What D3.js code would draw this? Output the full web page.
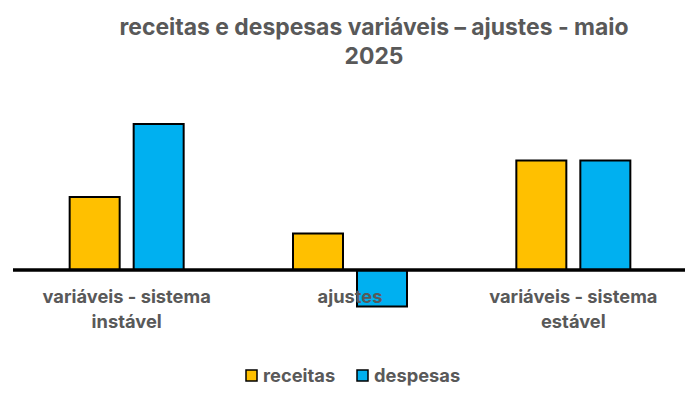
<!DOCTYPE html>
<html>
<head>
<meta charset="utf-8">
<script src="https://cdn.jsdelivr.net/npm/d3@7"></script>
<style>
  body { margin: 0; background: #fff; }
  svg text { font-family: Inter, "Open Sans", sans-serif; fill: #595959; font-weight: 700; }
</style>
</head>
<body>
<svg id="chart"></svg>
<script>
// chart data
const categories = [['variáveis - sistema', 'instável'], ['ajustes'], ['variáveis - sistema', 'estável']]
const seriesNames = ['receitas', 'despesas']
const receitas = [2, 1, 3]
const despesas = [4, -1, 3]
const colors = ['#FFC000', '#00B0F0']
const titleLines = ['receitas e despesas variáveis – ajustes - maio', '2025']

const width = 700
const height = 400

const svg = d3.select('#chart')
    .attr('width', width)
    .attr('height', height)

// category band across the plot area
const x = d3.scaleBand()
    .domain(d3.range(categories.length))
    .range([15, 685])

// position of the two bars inside each category
const xSub = d3.scalePoint()
    .domain(seriesNames)
    .range([-57, 7])

const barW = 50

const y = d3.scaleLinear()
    .domain([0, 4])
    .range([270, 124])

// title
svg.append('g')
    .selectAll('text')
    .data(titleLines)
    .join('text')
    .attr('x', 374)
    .attr('y', (d, i) => 35 + i * 29)
    .attr('text-anchor', 'middle')
    .style('font-size', '22.9px')
    .text(d => d)

// bars
const rows = []
categories.forEach((c, i) => {
    rows.push({ cat: i, s: 'receitas', v: receitas[i], c: colors[0] })
    rows.push({ cat: i, s: 'despesas', v: despesas[i], c: colors[1] })
})

svg.append('g')
    .selectAll('rect')
    .data(rows)
    .join('rect')
    .attr('x', d => x(d.cat) + x.bandwidth() / 2 + xSub(d.s))
    .attr('y', d => Math.min(y(d.v), y(0)))
    .attr('width', barW)
    .attr('height', d => Math.abs(y(d.v) - y(0)))
    .attr('fill', d => d.c)
    .attr('stroke', '#000')
    .attr('stroke-width', 2)

// zero line
svg.append('line')
    .attr('x1', 13)
    .attr('x2', 685)
    .attr('y1', y(0))
    .attr('y2', y(0))
    .attr('stroke', '#000')
    .attr('stroke-width', 3.5)

// category labels (drawn after so "ajustes" sits on top of the bar)
const labels = svg.append('g')
    .selectAll('text')
    .data(categories)
    .join('text')
    .attr('text-anchor', 'middle')
    .style('font-size', '18.3px')

labels.selectAll('tspan')
    .data((d, i) => d.map(t => ({ t, i })))
    .join('tspan')
    .attr('x', d => x(d.i) + x.bandwidth() / 2)
    .attr('y', (d, j) => 303 + j * 25)
    .text(d => d.t)

// legend
const legend = svg.append('g')
    .selectAll('g')
    .data(seriesNames)
    .join('g')
    .attr('transform', (d, i) => `translate(${[246, 357][i]},370)`)

legend.append('rect')
    .attr('width', 11)
    .attr('height', 11)
    .attr('fill', (d, i) => colors[i])
    .attr('stroke', '#000')
    .attr('stroke-width', 1.5)

legend.append('text')
    .attr('x', 17)
    .attr('y', 12)
    .style('font-size', '18.3px')
    .text(d => d)
</script>
</body>
</html>
